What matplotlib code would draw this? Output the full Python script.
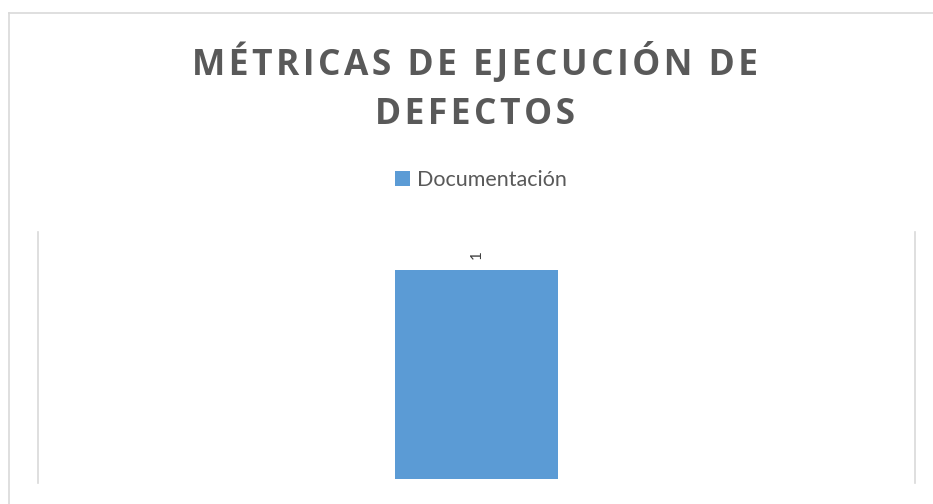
import matplotlib
matplotlib.use("Agg")
import matplotlib.pyplot as plt
from matplotlib.lines import Line2D

categories = [""]
series_name = "Documentación"
values = [1]
title_lines = ["MÉTRICAS DE EJECUCIÓN DE", "DEFECTOS"]

BAR = "#5b9bd5"
GRAY = "#595959"
LINE = "#d9d9d9"

fig = plt.figure(figsize=(9.33, 5.04), dpi=100)
W, H = 933, 504

# outer chart border (left and top edges visible)
fig.add_artist(Line2D([9 / W, 9 / W], [0, 1 - 13 / H], transform=fig.transFigure,
                      color=LINE, linewidth=1.2))
fig.add_artist(Line2D([9 / W, 1], [1 - 13 / H, 1 - 13 / H], transform=fig.transFigure,
                      color=LINE, linewidth=1.2))

ax = fig.add_axes([38 / W, (H - 479) / H, (915 - 38) / W, (479 - 232) / H])
x = list(range(len(categories)))
bars = ax.bar(x, values, width=0.185, color=BAR, zorder=2)
ax.set_xlim(-0.5, 0.5)
ax.set_ylim(0, 1.18)
for s in ["top", "bottom"]:
    ax.spines[s].set_visible(False)
for s in ["left", "right"]:
    ax.spines[s].set_color(LINE)
    ax.spines[s].set_linewidth(1.2)
    ax.spines[s].set_bounds(-0.02, 1.18)
ax.set_xticks([])
ax.set_yticks([])

for xi, v in zip(x, values):
    ax.annotate(str(v), (xi, v), xytext=(0, 8), textcoords="offset points",
                rotation=90, ha="center", va="bottom", fontsize=11,
                color="#404040", family=["Lato", "DejaVu Sans"])

def spaced(s):
    return "\u200a".join(s)

fig.text(475 / W, 1 - 63 / H, spaced(title_lines[0]), ha="center", va="center",
         fontsize=25.5, fontweight="bold", color=GRAY, family=["Open Sans", "DejaVu Sans"])
fig.text(475 / W, 1 - 115 / H, spaced(title_lines[1]), ha="center", va="center",
         fontsize=25.5, fontweight="bold", color=GRAY, family=["Open Sans", "DejaVu Sans"])

leg = fig.legend([bars], [series_name], loc="center", bbox_to_anchor=(481 / W, 1 - 180 / H),
                 frameon=False, handlelength=0.7, handleheight=0.7, handletextpad=0.35,
                 prop={"family": "Lato", "size": 15.5})
for t in leg.get_texts():
    t.set_color(GRAY)

fig.savefig("out.png", dpi=100, facecolor="white")
